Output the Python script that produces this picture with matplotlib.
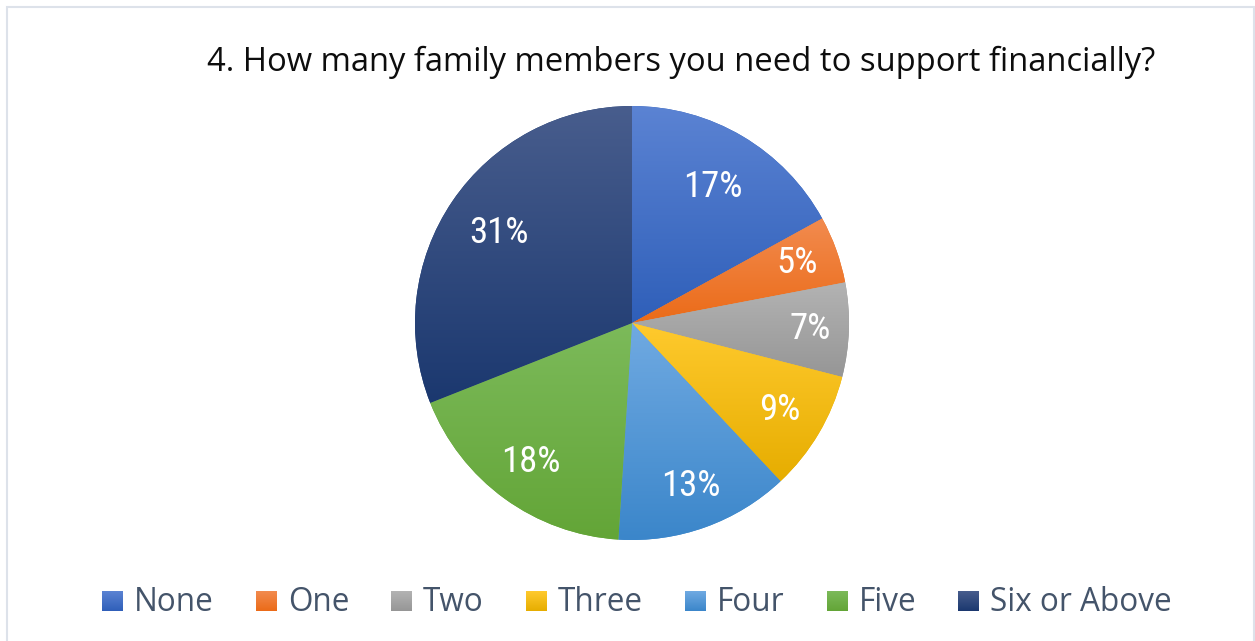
import numpy as np
import matplotlib
matplotlib.use("Agg")
import matplotlib.pyplot as plt
from matplotlib.colors import to_rgb, LinearSegmentedColormap
from matplotlib.patches import Rectangle

# Survey data
title = "4. How many family members you need to support financially?"
categories = ["None", "One", "Two", "Three", "Four", "Five", "Six or Above"]
percentages = [17, 5, 7, 9, 13, 18, 31]

# Office-style palette: (top, bottom) of the vertical gradient per slice
grad_top = ["#5b83d3", "#f28b4f", "#b3b3b3", "#ffca2e", "#70aae2", "#7cba5a", "#485d8d"]
grad_bot = ["#2f5fb9", "#eb6b18", "#969696", "#e6ad00", "#3b86ca", "#63a537", "#1b386f"]

W, H = 1255, 641
fig = plt.figure(figsize=(W / 100, H / 100), dpi=100)
ax = fig.add_axes([0, 0, 1, 1])

cx, cy, r = 632, H - 323, 217

wedges, _ = ax.pie(percentages, colors=grad_bot, startangle=90, counterclock=False,
                   center=(cx, cy), radius=r, frame=True,
                   wedgeprops=dict(linewidth=0))
ax.set_xlim(0, W)
ax.set_ylim(0, H)
ax.set_aspect("auto")
ax.axis("off")


def gradient_fill(patch, top, bot, zorder):
    ext = patch.get_path().get_extents(patch.get_patch_transform())
    cmap = LinearSegmentedColormap.from_list("g", [to_rgb(bot), to_rgb(top)])
    grad = np.linspace(0, 1, 256).reshape(-1, 1)
    im = ax.imshow(grad, cmap=cmap, origin="lower", aspect="auto",
                   extent=(ext.x0, ext.x1, ext.y0, ext.y1), zorder=zorder,
                   interpolation="bilinear")
    im.set_clip_path(patch)
    return im


for w, t, b in zip(wedges, grad_top, grad_bot):
    gradient_fill(w, t, b, zorder=w.get_zorder() + 0.1)

# Percentage labels placed along each slice's bisector
label_font = ["Roboto Condensed", "Liberation Sans Narrow", "Roboto", "DejaVu Sans"]
label_dist = [0.73, 0.81, 0.82, 0.79, 0.80, 0.79, 0.74]
for w, p, d in zip(wedges, percentages, label_dist):
    ang = np.deg2rad((w.theta1 + w.theta2) / 2)
    ax.text(cx + d * r * np.cos(ang), cy + d * r * np.sin(ang), f"{p}%",
            ha="center", va="center", color="white", fontsize=26.5,
            family=label_font, zorder=10)

# Title
ax.text(681, H - 62, title, ha="center", va="center", fontsize=23.6,
        family=["Open Sans", "DejaVu Sans"], color="#0d0d0d")

# Chart-area border
ax.add_patch(Rectangle((7, -10), 1247, H - 7 + 10, fill=False,
                       edgecolor="#dde2ea", linewidth=1.5, zorder=20))

# Legend row with gradient swatches
fig.canvas.draw()
renderer = fig.canvas.get_renderer()
x = 102
sq_w, sq_h = 21, 20
base_y = H - 611
text_color = "#44546a"
for name, t, b in zip(categories, grad_top, grad_bot):
    sw = Rectangle((x, base_y), sq_w, sq_h, facecolor=b, edgecolor="none", zorder=5)
    ax.add_patch(sw)
    gradient_fill(sw, t, b, zorder=5.1)
    txt = ax.text(x + sq_w + 11, base_y, name, ha="left", va="baseline",
                  fontsize=22.7, family=["Open Sans", "DejaVu Sans"],
                  color=text_color)
    bb = txt.get_window_extent(renderer)
    x = bb.x1 + 42

fig.savefig("out.png", dpi=100)
